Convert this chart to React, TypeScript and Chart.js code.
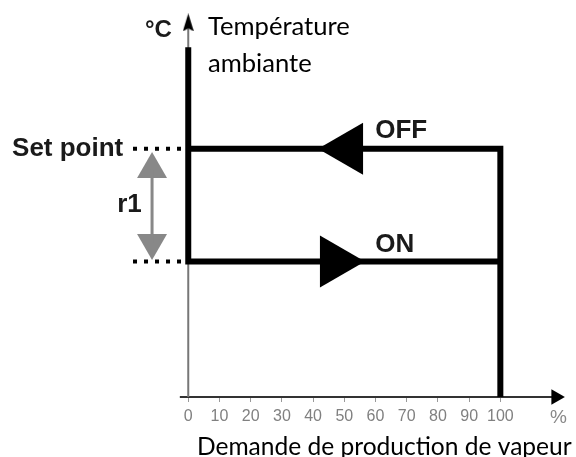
import React, { useEffect, useRef } from 'react';
import { Chart, registerables } from 'chart.js';

Chart.register(...registerables);

// ---- data ----
const xTickValues = [0, 10, 20, 30, 40, 50, 60, 70, 80, 90, 100];
const xTickLabels = ['0', '10', '20', '30', '40', '50', '60', '70', '80', '90', '100'];
const onLevel = 6;
const setPointLevel = 11;
const loopOnX = [0, 0, 100];
const loopOnY = [15.5, onLevel, onLevel];
const loopOffX = [0, 100, 100];
const loopOffY = [setPointLevel, setPointLevel, 0];
const offArrowX = [51.2];
const offArrowY = [setPointLevel];
const onArrowX = [47.0];
const onArrowY = [onLevel];
const r1ArrowX = [-11.6, -11.6];
const r1ArrowY = [10.09, 6.84];
const yAxisX = [0, 0];
const yAxisY = [0, 16.6];
const xAxisX = [-2.7, 117.8];
const xAxisY = [0, 0];
const dotsX = [-17.7, 0];

const textSetPoint = 'Set point';
const textOff = 'OFF';
const textOn = 'ON';
const textR1 = 'r1';
const textUnitY = '°C';
const textTitleY = ['Température', 'ambiante'];
const textUnitX = '%';
const textTitleX = 'Demande de production de vapeur';

const pts = (xs: number[], ys: number[]) => xs.map((x, i) => ({ x, y: ys[i] }));

const lineDs = (data: any[], color: string, width: number, order: number, extra: any = {}) => ({
  data,
  showLine: true,
  borderColor: color,
  borderWidth: width,
  pointRadius: 0,
  tension: 0,
  fill: false,
  order,
  clip: false,
  ...extra,
});

const arrowDs = (data: any[], color: string, radius: number, rotation: any, order: number, style: any = 'triangle') => ({
  data,
  showLine: false,
  pointStyle: style,
  pointRadius: radius,
  rotation,
  backgroundColor: color,
  borderColor: color,
  borderWidth: 0,
  order,
  clip: false,
});

const makeNarrowArrow = () => {
  const c = document.createElement('canvas');
  c.width = 11;
  c.height = 18;
  const g = c.getContext('2d')!;
  g.fillStyle = '#000';
  g.beginPath();
  g.moveTo(5.5, 0);
  g.lineTo(11, 18);
  g.lineTo(5.5, 15);
  g.lineTo(0, 18);
  g.closePath();
  g.fill();
  return c;
};

const textPlugin = {
  id: 'diagramText',
  afterDatasetsDraw(chart: any) {
    const ctx = chart.ctx;
    const xs = chart.scales.x;
    const ys = chart.scales.y;
    const ox = xs.getPixelForValue(0);
    const oy = ys.getPixelForValue(0);
    const spY = ys.getPixelForValue(setPointLevel);
    const onY = ys.getPixelForValue(onLevel);
    ctx.save();
    ctx.textBaseline = 'alphabetic';
    ctx.fillStyle = '#1a1a1a';
    ctx.font = 'bold 26px "Liberation Sans", Arial, sans-serif';
    ctx.textAlign = 'right';
    ctx.fillText(textSetPoint, ox - 65, spY + 7.5);
    ctx.textAlign = 'left';
    ctx.fillText(textOff, ox + 187, spY - 10.5);
    ctx.fillText(textOn, ox + 187, onY - 9.5);
    ctx.fillText(textR1, ox - 71, onY - 49.6);
    ctx.font = 'bold 24px "Liberation Sans", Arial, sans-serif';
    ctx.fillText(textUnitY, ox - 43.3, oy - 360);

    // Calibri-like titles, fitted to the reference widths
    const fit = (txt: string, target: number) => {
      ctx.font = '26px Lato, "Open Sans", sans-serif';
      const w = ctx.measureText(txt).width;
      return 26 * target / w;
    };
    ctx.fillStyle = '#000';
    const sY = fit(textTitleY[0], 142);
    ctx.font = `${sY}px Lato, "Open Sans", sans-serif`;
    ctx.fillText(textTitleY[0], ox + 19.7, oy - 362);
    ctx.fillText(textTitleY[1], ox + 19.7, oy - 325);
    const sX = fit(textTitleX, 375);
    ctx.font = `${sX}px Lato, "Open Sans", sans-serif`;
    ctx.fillText(textTitleX, ox + 8.7, oy + 58);

    ctx.fillStyle = '#888';
    ctx.font = '19px "Liberation Sans", Arial, sans-serif';
    ctx.textAlign = 'center';
    ctx.fillText(textUnitX, xs.getPixelForValue(100) + 58, oy + 26);
    ctx.restore();
  },
};

export default function App() {
  const ref = useRef<HTMLCanvasElement | null>(null);
  useEffect(() => {
    if (!ref.current) return;
    const narrow = makeNarrowArrow();
    const chart = new Chart(ref.current, {
      type: 'scatter',
      data: {
        datasets: [
          lineDs(pts(loopOnX, loopOnY), '#000', 6, 1, { borderJoinStyle: 'miter' }),
          lineDs(pts(loopOffX, loopOffY), '#000', 6, 1, { borderJoinStyle: 'miter' }),
          arrowDs(pts(offArrowX, offArrowY), '#000', 30, 270, 0),
          arrowDs(pts(onArrowX, onArrowY), '#000', 30, 90, 0),
          lineDs(pts(yAxisX, yAxisY), '#777', 2, 6),
          arrowDs([{ x: 0, y: yAxisY[1] }], '#000', 9, 0, 5, narrow),
          lineDs(pts(xAxisX, xAxisY), '#333', 2, 6),
          arrowDs([{ x: xAxisX[1], y: 0 }], '#000', 9, 90, 5),
          lineDs(pts(dotsX, [setPointLevel, setPointLevel]), '#000', 4, 7, { borderDash: [4, 7] }),
          lineDs(pts(dotsX, [onLevel, onLevel]), '#000', 4, 7, { borderDash: [4, 7] }),
          lineDs(pts(r1ArrowX, r1ArrowY), '#888', 3, 8),
          arrowDs(pts(r1ArrowX, r1ArrowY), '#888', 17.3, [0, 180], 8),
        ] as any,
      },
      options: {
        animation: false,
        responsive: true,
        maintainAspectRatio: false,
        devicePixelRatio: 1,
        events: [],
        layout: { autoPadding: false, padding: { left: 1, right: 7, top: 2, bottom: 0 } },
        plugins: { legend: { display: false }, tooltip: { enabled: false } },
        scales: {
          x: {
            type: 'linear',
            min: -60,
            max: 122,
            border: { display: false },
            grid: { drawOnChartArea: false, drawTicks: true, tickLength: 5, color: '#999', lineWidth: 1 },
            afterBuildTicks: (s: any) => {
              s.ticks = xTickValues.map((v) => ({ value: v }));
            },
            afterFit: (s: any) => {
              s.height = 60;
            },
            ticks: {
              autoSkip: false,
              maxRotation: 0,
              padding: 5,
              color: '#808080',
              font: { family: '"Liberation Sans", Arial, sans-serif', size: 16 },
              callback: (v: any) => {
                const i = xTickValues.indexOf(Number(v));
                return i >= 0 ? xTickLabels[i] : '';
              },
            },
          },
          y: {
            type: 'linear',
            min: 0,
            max: 17.5,
            display: false,
          },
        },
      },
      plugins: [textPlugin],
    } as any);
    return () => chart.destroy();
  }, []);
  return (
    <div style={{ position: 'absolute', left: 0, top: 0, width: 576, height: 457, background: '#fff' }}>
      <canvas ref={ref} />
    </div>
  );
}
